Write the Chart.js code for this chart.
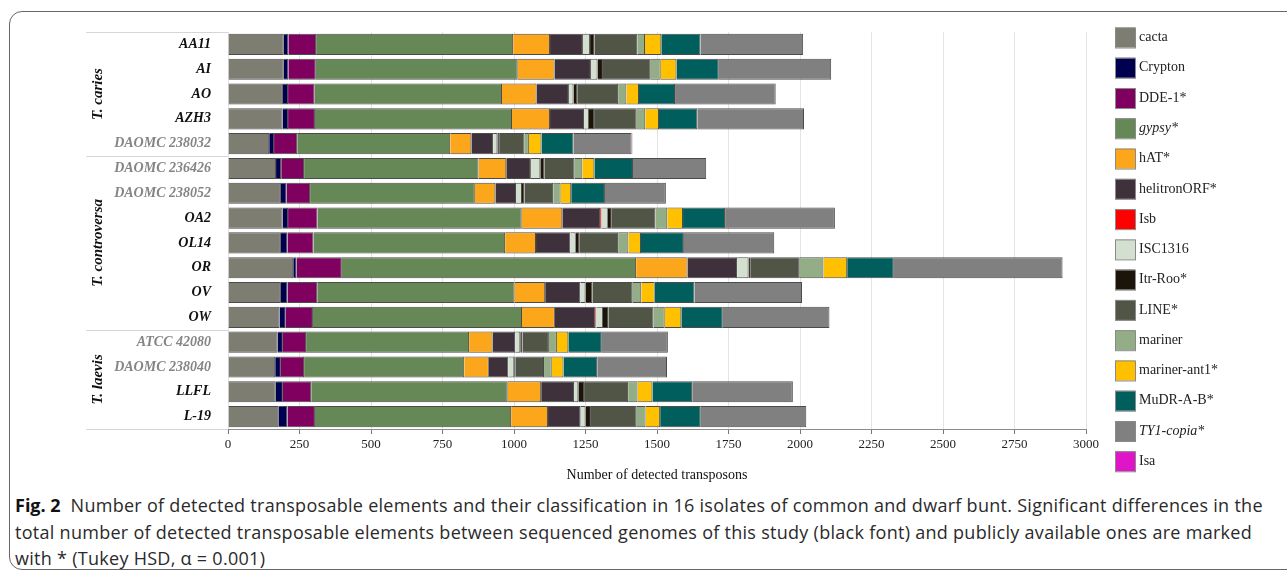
<!DOCTYPE html>
<html>
<head>
<meta charset="utf-8">
<script src="https://cdn.jsdelivr.net/npm/chart.js@4.4.1/dist/chart.umd.min.js"></script>
<style>
  html, body { margin: 0; padding: 0; background: #fff; }
  body { width: 1287px; height: 578px; position: relative; overflow: hidden; }
  #frame {
    position: absolute; left: 9px; top: 11px; width: 1320px; height: 559px;
    border: 1px solid #666; border-radius: 13px; box-sizing: border-box;
  }
  #chart { position: absolute; left: 0; top: 0; }
  #caption {
    position: absolute; left: 15px; top: 492px;
    font-family: "Open Sans", "Noto Sans", sans-serif; font-size: 18px;
    letter-spacing: 0.28px; line-height: 26.5px; color: #2a2a2a; white-space: nowrap;
  }
  #caption b { color: #111; letter-spacing: 0; }
</style>
</head>
<body>
<div id="frame"></div>
<canvas id="chart" width="1287" height="490"></canvas>
<div id="caption">
  <b>Fig. 2</b>&nbsp; Number of detected transposable elements and their classification in 16 isolates of common and dwarf bunt. Significant differences in the<br>
  total number of detected transposable elements between sequenced genomes of this study (black font) and publicly available ones are marked<br>
  with * (Tukey HSD, α = 0.001)
</div>
<script>
// isolates, top to bottom
const isolates = [
  'AA11', 'AI', 'AO', 'AZH3', 'DAOMC 238032',
  'DAOMC 236426', 'DAOMC 238052', 'OA2', 'OL14', 'OR', 'OV', 'OW',
  'ATCC 42080', 'DAOMC 238040', 'LLFL', 'L-19'
];
// public genomes are printed in grey
const publicIsolates = ['DAOMC 238032', 'DAOMC 236426', 'DAOMC 238052', 'ATCC 42080', 'DAOMC 238040'];

const species = ['T. caries', 'T. controversa', 'T. laevis'];
const speciesFirst = [0, 5, 12];
const speciesLast = [4, 11, 15];

// counts per transposon family, one value per isolate
const cacta       = [195, 195, 192, 191, 144, 168, 185, 191, 185, 228, 185, 180, 173, 165, 167, 176];
const crypton     = [16, 16, 18, 19, 17, 18, 20, 19, 23, 12, 23, 22, 19, 20, 25, 32];
const dde1        = [97, 96, 93, 94, 81, 80, 82, 103, 91, 158, 104, 95, 81, 81, 99, 96];
const gypsy       = [689, 706, 655, 689, 535, 610, 576, 714, 670, 1029, 690, 731, 570, 560, 687, 686];
const hat         = [129, 129, 121, 133, 74, 97, 72, 142, 108, 180, 107, 115, 82, 86, 117, 129];
const helitron    = [115, 127, 113, 119, 76, 86, 72, 132, 120, 173, 123, 141, 79, 68, 115, 114];
const isb         = [0, 0, 0, 0, 0, 0, 0, 5, 0, 0, 0, 4, 0, 0, 0, 0];
const isc1316     = [25, 23, 16, 17, 15, 33, 21, 22, 19, 40, 18, 23, 18, 21, 15, 17];
const itrRoo      = [16, 19, 13, 18, 6, 14, 9, 14, 12, 8, 24, 20, 8, 5, 20, 19];
const line        = [149, 167, 143, 149, 89, 106, 100, 152, 136, 171, 141, 157, 92, 99, 154, 160];
const mariner     = [27, 35, 29, 30, 15, 27, 26, 42, 36, 83, 30, 39, 28, 27, 33, 31];
const marinerAnt1 = [57, 55, 44, 48, 44, 42, 37, 55, 44, 83, 47, 58, 40, 41, 52, 51];
const mudr        = [137, 148, 126, 134, 112, 135, 118, 147, 150, 163, 139, 145, 117, 118, 139, 142];
const ty1copia    = [359, 393, 352, 373, 203, 256, 213, 384, 316, 590, 376, 373, 231, 244, 352, 369];
const isa         = [0, 0, 0, 0, 3, 0, 0, 0, 0, 0, 0, 0, 0, 0, 0, 0];

const families = ['cacta', 'Crypton', 'DDE-1*', 'gypsy*', 'hAT*', 'helitronORF*', 'Isb', 'ISC1316',
  'Itr-Roo*', 'LINE*', 'mariner', 'mariner-ant1*', 'MuDR-A-B*', 'TY1-copia*', 'Isa'];
const familyData = [cacta, crypton, dde1, gypsy, hat, helitron, isb, isc1316,
  itrRoo, line, mariner, marinerAnt1, mudr, ty1copia, isa];
const familyColors = ['#7d7d72', '#000050', '#7f005f', '#668756', '#fba61b', '#3f313b', '#ff0000', '#d3e0cf',
  '#1c1408', '#505546', '#93ae86', '#ffc000', '#005f5d', '#808080', '#e015c8'];
const italicFamilies = ['gypsy*', 'TY1-copia*'];

const serif = "'Liberation Serif', 'Times New Roman', serif";
Chart.defaults.font.family = serif;

const datasets = families.map((name, i) => ({
  label: name,
  data: familyData[i],
  backgroundColor: familyColors[i],
  borderColor: '#4b4b4b',
  borderWidth: 1,
  barPercentage: 0.85,
  categoryPercentage: 1
}));

// species brackets on the left: divider lines and rotated names
const speciesPlugin = {
  id: 'species',
  afterDraw(chart) {
    const { ctx, chartArea, scales: { y } } = chart;
    const half = (y.getPixelForValue(1) - y.getPixelForValue(0)) / 2;
    ctx.save();
    ctx.strokeStyle = '#d6d6d6';
    ctx.lineWidth = 1;
    const edges = [y.getPixelForValue(0) - half].concat(speciesLast.map(i => y.getPixelForValue(i) + half));
    edges.forEach(py => {
      ctx.beginPath();
      ctx.moveTo(86, Math.round(py) + 0.5);
      ctx.lineTo(chartArea.left, Math.round(py) + 0.5);
      ctx.stroke();
    });
    ctx.fillStyle = '#111';
    ctx.font = `italic bold 15px ${serif}`;
    ctx.textAlign = 'center';
    ctx.textBaseline = 'middle';
    species.forEach((name, k) => {
      const mid = (y.getPixelForValue(speciesFirst[k]) + y.getPixelForValue(speciesLast[k])) / 2;
      ctx.save();
      ctx.translate(98, mid);
      ctx.rotate(-Math.PI / 2);
      ctx.fillText(name, 0, 0);
      ctx.restore();
    });
    ctx.restore();
  }
};

// legend column on the right
const legendPlugin = {
  id: 'sideLegend',
  afterDraw(chart) {
    const ctx = chart.ctx;
    ctx.save();
    ctx.textBaseline = 'middle';
    families.forEach((name, i) => {
      const top = 27.5 + i * 30.27;
      ctx.fillStyle = familyColors[i];
      ctx.fillRect(1115, top, 20, 20);
      ctx.strokeStyle = '#8a8a8a';
      ctx.lineWidth = 1;
      ctx.strokeRect(1115.5, top + 0.5, 20, 20);
      ctx.fillStyle = '#222';
      ctx.font = (italicFamilies.includes(name) ? 'italic ' : '') + `14px ${serif}`;
      ctx.fillText(name, 1139, top + 10);
    });
    ctx.restore();
  }
};

new Chart(document.getElementById('chart'), {
  type: 'bar',
  data: { labels: isolates, datasets },
  options: {
    indexAxis: 'y',
    responsive: false,
    animation: false,
    devicePixelRatio: 1,
    layout: { padding: { top: 32, right: 201, bottom: 0, left: 0 } },
    plugins: { legend: { display: false }, tooltip: { enabled: false } },
    scales: {
      x: {
        stacked: true,
        min: 0,
        max: 3000,
        grid: { color: '#e4e4e4', tickColor: '#777', tickLength: 5 },
        border: { color: '#8c8c8c' },
        ticks: {
          stepSize: 250, color: '#222', font: { size: 13 }, padding: 3, maxRotation: 0,
          callback: value => String(value)
        },
        title: {
          display: true,
          text: 'Number of detected transposons',
          color: '#111',
          font: { size: 14 },
          padding: { top: 0, bottom: 6 }
        },
        afterFit(scale) { scale.height = 61; }
      },
      y: {
        stacked: true,
        grid: { display: false },
        border: { display: false },
        ticks: {
          padding: 9,
          color: ctx => publicIsolates.includes(isolates[ctx.index]) ? '#858585' : '#111',
          font: { size: 14, weight: 'bold', style: 'italic' }
        },
        afterFit(scale) { scale.width = 228; }
      }
    }
  },
  plugins: [speciesPlugin, legendPlugin]
});
</script>
</body>
</html>
